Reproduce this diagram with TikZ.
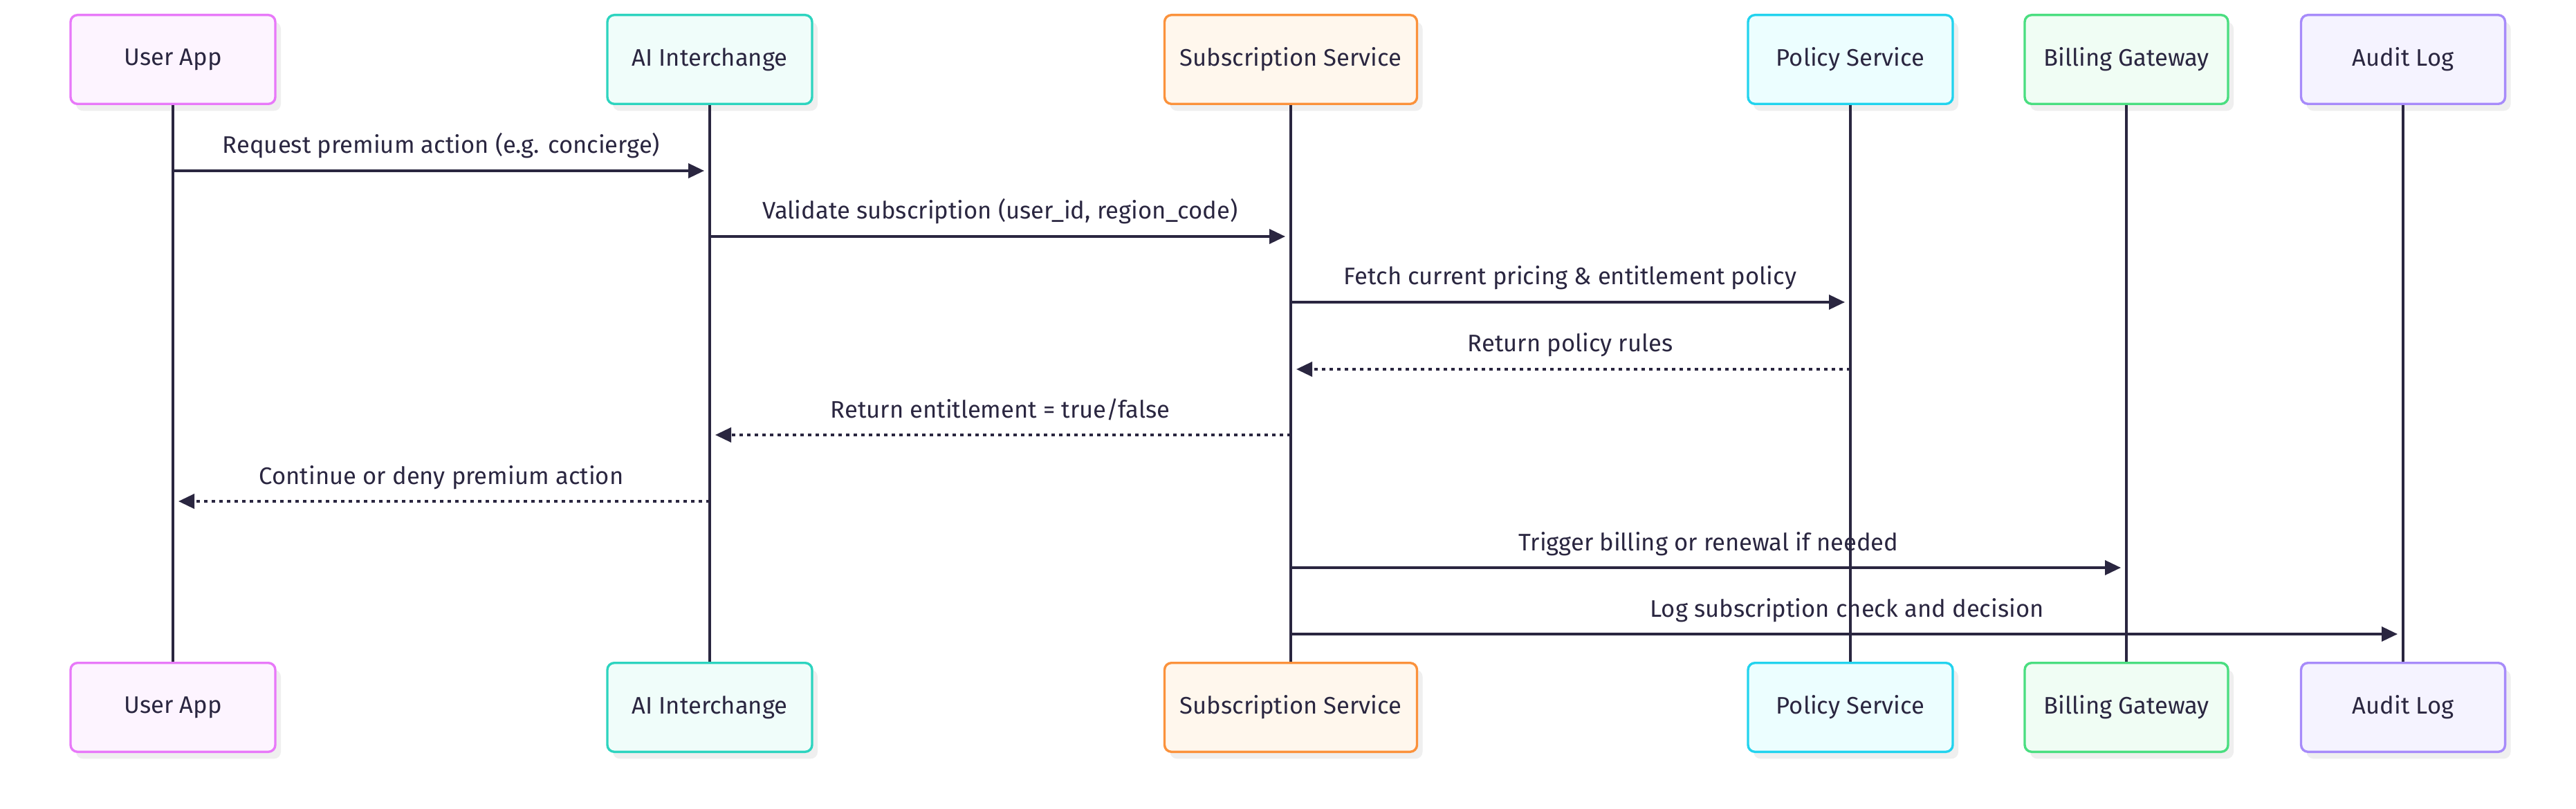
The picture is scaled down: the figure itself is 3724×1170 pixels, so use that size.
\documentclass[tikz,border=0pt]{standalone}
\usepackage{fontspec}
\setmainfont{Fira Sans}
\usetikzlibrary{arrows.meta,shadows}
\definecolor{ink}{HTML}{2A2640}
\definecolor{uaB}{HTML}{E879F9}\definecolor{uaF}{HTML}{FDF4FF}
\definecolor{aiB}{HTML}{2DD4BF}\definecolor{aiF}{HTML}{F0FDFA}
\definecolor{ssB}{HTML}{FB923C}\definecolor{ssF}{HTML}{FFF7ED}
\definecolor{psB}{HTML}{22D3EE}\definecolor{psF}{HTML}{ECFEFF}
\definecolor{bgB}{HTML}{4ADE80}\definecolor{bgF}{HTML}{F0FDF4}
\definecolor{alB}{HTML}{A78BFA}\definecolor{alF}{HTML}{F5F3FF}
\definecolor{shadowc}{HTML}{EFEFEF}
\begin{document}
\begin{tikzpicture}[x=0.5pt,y=-0.5pt,
  actor/.style n args={3}{draw=#1, fill=#2, line width=1.7pt, rounded corners=5pt,
    minimum width=#3, minimum height=64.3pt, inner sep=0pt, text=ink,
    font=\fontsize{17.3}{20}\selectfont,
    drop shadow={shadow xshift=4pt, shadow yshift=-5pt, fill=shadowc, opacity=1}},
  lifeline/.style={draw=ink, line width=1.6pt},
  msg/.style={draw=ink, line width=1.8pt, -{Triangle[length=11.5pt,width=10.5pt]}, shorten >=4pt},
  ret/.style={msg, dash pattern=on 2.3pt off 3.2pt},
  lbl/.style={anchor=base, text=ink, font=\fontsize{17.3}{20}\selectfont, inner sep=0pt}]
\useasboundingbox[fill=white] (0,0) rectangle (3724,1170);
% top actors
\node[actor={uaB}{uaF}{148pt}] (ua) at (250,86) {User App};
\node[actor={aiB}{aiF}{148pt}] (ai) at (1026,86) {AI Interchange};
\node[actor={ssB}{ssF}{182.5pt}] (ss) at (1866,86) {Subscription Service};
\node[actor={psB}{psF}{148pt}] (ps) at (2675,86) {Policy Service};
\node[actor={bgB}{bgF}{147pt}] (bg) at (3074,86) {Billing Gateway};
\node[actor={alB}{alF}{147.5pt}] (al) at (3474,86) {Audit Log};
% bottom actors
\node[actor={uaB}{uaF}{148pt}] (ua2) at (250,1023) {User App};
\node[actor={aiB}{aiF}{148pt}] (ai2) at (1026,1023) {AI Interchange};
\node[actor={ssB}{ssF}{182.5pt}] (ss2) at (1866,1023) {Subscription Service};
\node[actor={psB}{psF}{148pt}] (ps2) at (2675,1023) {Policy Service};
\node[actor={bgB}{bgF}{147pt}] (bg2) at (3074,1023) {Billing Gateway};
\node[actor={alB}{alF}{147.5pt}] (al2) at (3474,1023) {Audit Log};
% lifelines
\draw[lifeline] (ua.south) -- (ua2.north);
\draw[lifeline] (ai.south) -- (ai2.north);
\draw[lifeline] (ss.south) -- (ss2.north);
\draw[lifeline] (ps.south) -- (ps2.north);
\draw[lifeline] (bg.south) -- (bg2.north);
\draw[lifeline] (al.south) -- (al2.north);
% message end points
\coordinate (m1a) at (250,247);  \coordinate (m1b) at (1026,247);
\coordinate (m2a) at (1026,342); \coordinate (m2b) at (1866,342);
\coordinate (m3a) at (1866,437); \coordinate (m3b) at (2675,437);
\coordinate (m4a) at (2675,534); \coordinate (m4b) at (1866,534);
\coordinate (m5a) at (1866,629); \coordinate (m5b) at (1026,629);
\coordinate (m6a) at (1026,725); \coordinate (m6b) at (250,725);
\coordinate (m7a) at (1866,821); \coordinate (m7b) at (3074,821);
\coordinate (m8a) at (1866,917); \coordinate (m8b) at (3474,917);
% messages
\draw[msg] (m1a) -- (m1b);
\node[lbl] (l1) at (638,222) {Request premium action (e.g. concierge)};
\draw[msg] (m2a) -- (m2b);
\node[lbl] (l2) at (1446,317) {Validate subscription (user\_id, region\_code)};
\draw[msg] (m3a) -- (m3b);
\node[lbl] (l3) at (2270,412) {Fetch current pricing \& entitlement policy};
\draw[ret] (m4a) -- (m4b);
\node[lbl] (l4) at (2270,509) {Return policy rules};
\draw[ret] (m5a) -- (m5b);
\node[lbl] (l5) at (1446,604) {Return entitlement = true/false};
\draw[ret] (m6a) -- (m6b);
\node[lbl] (l6) at (638,700) {Continue or deny premium action};
\draw[msg] (m7a) -- (m7b);
\node[lbl] (l7) at (2470,796) {Trigger billing or renewal if needed};
\draw[msg] (m8a) -- (m8b);
\node[lbl] (l8) at (2670,892) {Log subscription check and decision};
\end{tikzpicture}
\end{document}
